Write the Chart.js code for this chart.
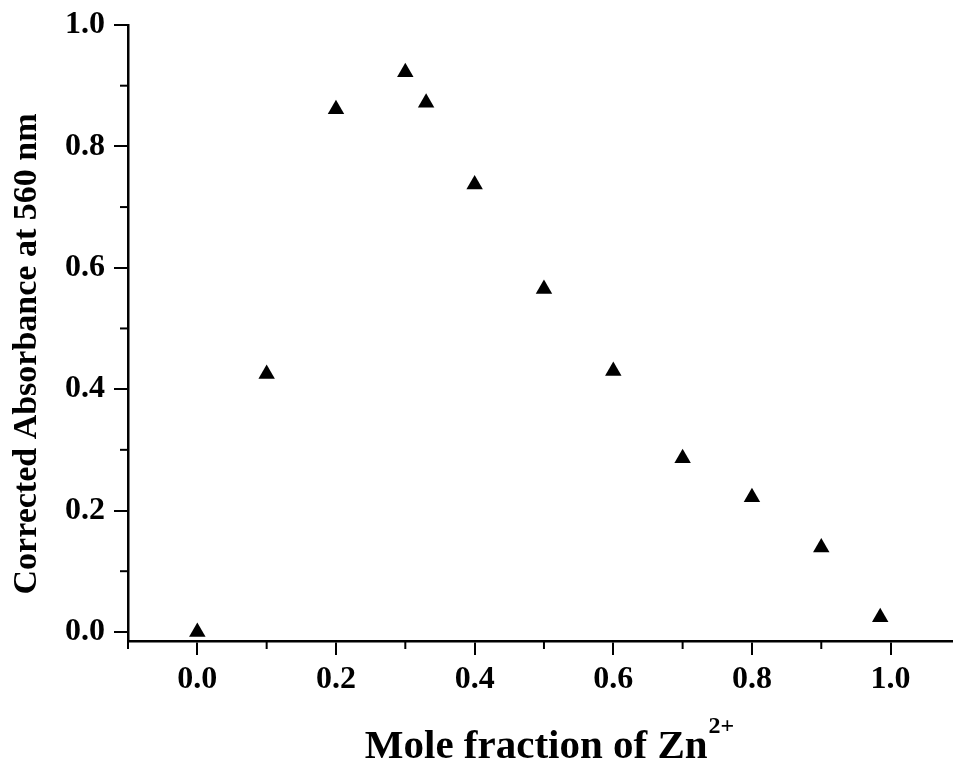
<!DOCTYPE html>
<html>
<head>
<meta charset="utf-8">
<script src="https://cdn.jsdelivr.net/npm/chart.js@4"></script>
<style>
html,body{margin:0;padding:0;background:#fff;}
#wrap{width:953px;height:761px;position:relative;}
</style>
</head>
<body>
<div id="wrap"><canvas id="c"></canvas></div>
<script>
// Data
const moleFraction = [0.0, 0.1, 0.2, 0.3, 0.33, 0.4, 0.5, 0.6, 0.7, 0.8, 0.9, 0.985];
const absorbance   = [0.0, 0.425, 0.861, 0.922, 0.872, 0.737, 0.565, 0.430, 0.286, 0.222, 0.139, 0.024];
const xMinorTicks = [-0.1, 0.1, 0.3, 0.5, 0.7, 0.9];
const yMinorTicks = [0.1, 0.3, 0.5, 0.7, 0.9];
const xTitle = "Mole fraction of Zn";
const xTitleSup = "2+";
const yTitle = "Corrected Absorbance at 560 nm";

const FONT = "'Liberation Serif', 'Times New Roman', serif";

const points = moleFraction.map((x, i) => ({x: x, y: absorbance[i]}));

const decorPlugin = {
  id: 'decor',
  afterDraw(chart) {
    const ctx = chart.ctx;
    const xs = chart.scales.x, ys = chart.scales.y;
    const area = chart.chartArea;
    ctx.save();
    ctx.strokeStyle = '#000';
    ctx.lineWidth = 2;
    // minor ticks
    xMinorTicks.forEach(v => {
      const px = xs.getPixelForValue(v);
      ctx.beginPath(); ctx.moveTo(px, area.bottom); ctx.lineTo(px, area.bottom + 8); ctx.stroke();
    });
    yMinorTicks.forEach(v => {
      const py = ys.getPixelForValue(v);
      ctx.beginPath(); ctx.moveTo(area.left, py); ctx.lineTo(area.left - 8, py); ctx.stroke();
    });
    // x title with superscript
    ctx.fillStyle = '#000';
    ctx.textBaseline = 'alphabetic';
    ctx.font = "bold 41px " + FONT;
    const w1 = ctx.measureText(xTitle).width;
    ctx.font = "bold 24px " + FONT;
    const w2 = ctx.measureText(xTitleSup).width;
    const cx = 549;
    const startX = cx - (w1 + w2) / 2;
    const baseY = 758;
    ctx.font = "bold 41px " + FONT;
    ctx.textAlign = 'left';
    ctx.fillText(xTitle, startX, baseY);
    ctx.font = "bold 24px " + FONT;
    ctx.fillText(xTitleSup, startX + w1 + 1, baseY - 25);
    // y title
    ctx.font = "bold 34px " + FONT;
    ctx.translate(27, 354);
    ctx.rotate(-Math.PI / 2);
    ctx.textAlign = 'center';
    ctx.textBaseline = 'middle';
    ctx.fillText(yTitle, 0, 0);
    ctx.restore();
  }
};

new Chart(document.getElementById('c'), {
  type: 'scatter',
  data: {
    datasets: [{
      data: points,
      pointStyle: 'triangle',
      pointRadius: 9.5,
      pointHoverRadius: 9.5,
      backgroundColor: '#000',
      borderColor: '#000',
      borderWidth: 0,
      showLine: false,
      clip: false
    }]
  },
  options: {
    responsive: true,
    maintainAspectRatio: false,
    animation: false,
    events: [],
    layout: {autoPadding: false, padding: {left: 0, right: 0, top: 25, bottom: 0}},
    plugins: {legend: {display: false}, tooltip: {enabled: false}, title: {display: false}},
    scales: {
      x: {
        type: 'linear',
        min: -0.1,
        max: 1.09,
        afterFit(s) { s.height = 120; s.paddingLeft = 0; s.paddingRight = 0; },
        border: {display: true, color: '#000', width: 2.5},
        grid: {drawOnChartArea: false, drawTicks: true, tickLength: 14, tickColor: '#000', lineWidth: 2},
        ticks: {
          stepSize: 0.2,
          includeBounds: false,
          color: '#000',
          padding: 6,
          maxRotation: 0,
          font: {family: FONT, size: 32, weight: 'bold'},
          callback: v => Number(v).toFixed(1)
        }
      },
      y: {
        type: 'linear',
        min: -0.015,
        max: 1.0,
        afterFit(s) { s.width = 128; s.paddingTop = 0; s.paddingBottom = 0; },
        border: {display: true, color: '#000', width: 2.5},
        grid: {drawOnChartArea: false, drawTicks: true, tickLength: 14, tickColor: '#000', lineWidth: 2},
        ticks: {
          stepSize: 0.2,
          includeBounds: false,
          color: '#000',
          padding: 9,
          font: {family: FONT, size: 32, weight: 'bold'},
          callback: v => Number(v).toFixed(1)
        }
      }
    }
  },
  plugins: [decorPlugin]
});
</script>
</body>
</html>
